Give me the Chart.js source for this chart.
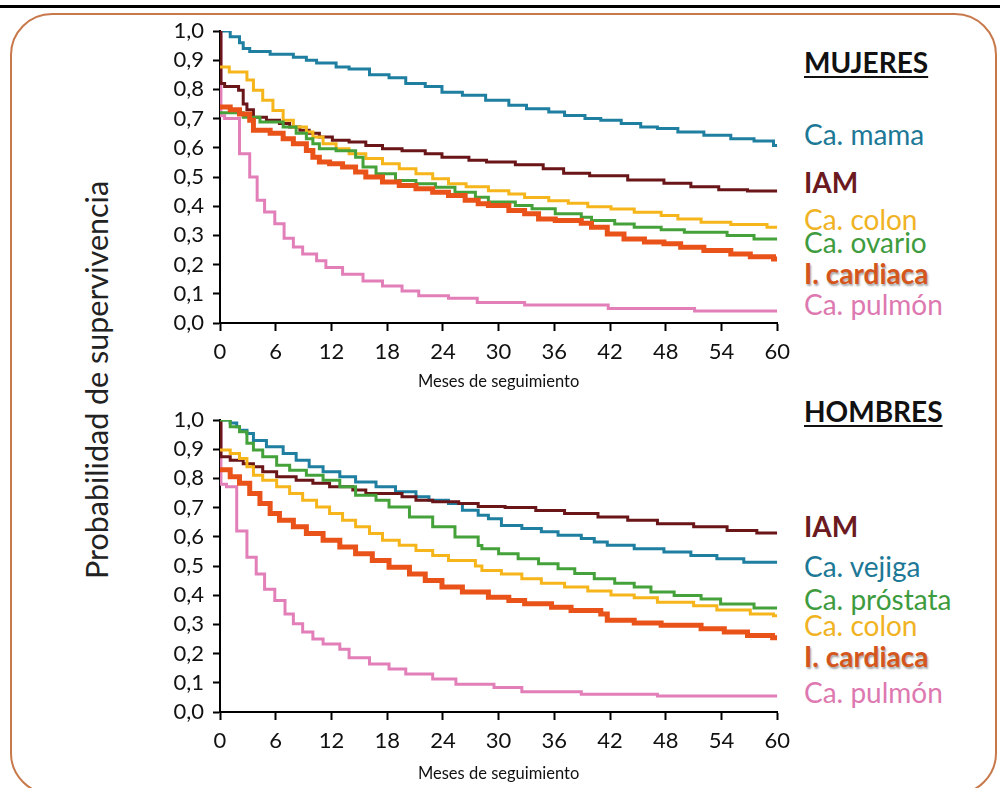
<!DOCTYPE html>
<html>
<head>
<meta charset="utf-8">
<script src="https://cdn.jsdelivr.net/npm/chart.js@4"></script>
<style>
body { margin: 0; background: #fff; }
#page { position: relative; width: 1000px; height: 788px; overflow: hidden; font-family: Lato, "Open Sans", sans-serif; }
#topline { position: absolute; left: 0; top: 5px; width: 1000px; height: 3px; background: #000; }
#frame { position: absolute; left: 10px; top: 13px; width: 987px; height: 782px; border: 2px solid #c8794c; border-radius: 42px; box-sizing: border-box; }
canvas { position: absolute; left: 130px; }
#c1 { top: 0; }
#c2 { top: 389px; }
#ytitle { position: absolute; left: 96px; top: 380px; transform: translate(-50%, -50%) rotate(-90deg); font-size: 30.5px; color: #222; white-space: nowrap; }
.lbl { position: absolute; left: 804px; font-size: 28px; line-height: 28px; white-space: nowrap; }
.b { font-weight: bold; }
.head { color: #111; font-weight: bold; text-decoration: underline; text-decoration-thickness: 2px; text-underline-offset: 3px; }
.card { font-weight: bold; text-shadow: 1px 2px 2px rgba(0,0,0,0.35); }
</style>
</head>
<body>
<div id="page">
  <div id="topline"></div>
  <div id="frame"></div>
  <canvas id="c1" width="670" height="395"></canvas>
  <canvas id="c2" width="670" height="399"></canvas>
  <div id="ytitle">Probabilidad de supervivencia</div>

  <div class="lbl head" style="top:48px">MUJERES</div>
  <div class="lbl" style="top:120px;color:#1c7896">Ca. mama</div>
  <div class="lbl b" style="top:168px;color:#6b1a1f">IAM</div>
  <div class="lbl" style="top:205px;color:#f0b323">Ca. colon</div>
  <div class="lbl" style="top:228px;color:#3e9b3e">Ca. ovario</div>
  <div class="lbl card" style="top:259px;color:#d5561c">I. cardiaca</div>
  <div class="lbl" style="top:290px;color:#dd79b0">Ca. pulmón</div>

  <div class="lbl head" style="top:397px">HOMBRES</div>
  <div class="lbl b" style="top:512px;color:#6b1a1f">IAM</div>
  <div class="lbl" style="top:552px;color:#1c7896">Ca. vejiga</div>
  <div class="lbl" style="top:585px;color:#3e9b3e">Ca. próstata</div>
  <div class="lbl" style="top:611px;color:#f0b323">Ca. colon</div>
  <div class="lbl card" style="top:642px;color:#d5561c">I. cardiaca</div>
  <div class="lbl" style="top:678px;color:#dd79b0">Ca. pulmón</div>
</div>

<script>
// axis ticks
var xTickValues = [0, 6, 12, 18, 24, 30, 36, 42, 48, 54, 60];
var yTickValues = [0, 0.1, 0.2, 0.3, 0.4, 0.5, 0.6, 0.7, 0.8, 0.9, 1.0];
var yTickLabels = ['0,0', '0,1', '0,2', '0,3', '0,4', '0,5', '0,6', '0,7', '0,8', '0,9', '1,0'];

// MUJERES - [mes, supervivencia]
var mujMama = [[0,1.0],[1.1,0.98],[2.1,0.96],[2.5,0.94],[3.2,0.93],[5.4,0.92],[7.9,0.91],[9.3,0.90],[10.4,0.89],[12.5,0.877],
  [13.9,0.87],[16.1,0.85],[18.2,0.84],[20,0.82],[22.1,0.81],[23.9,0.79],[26.1,0.78],[28.6,0.763],[31.1,0.746],[33,0.734],
  [35.4,0.723],[37.1,0.711],[39.3,0.70],[41,0.694],[43.2,0.683],[45.3,0.671],[47.1,0.666],[49.3,0.654],[52.1,0.643],[55,0.631],
  [57.5,0.623],[59.6,0.608],[60,0.608]];
var mujIam = [[0,1.0],[0.1,0.82],[0.5,0.81],[2.0,0.797],[2.5,0.75],[2.9,0.73],[3.6,0.705],[5.0,0.694],[6.4,0.683],[7.5,0.671],
  [8.6,0.66],[9.6,0.65],[10.7,0.637],[12.1,0.626],[13.9,0.62],[15.7,0.608],[17.5,0.597],[19.6,0.59],[22.1,0.58],[23.9,0.568],
  [26.8,0.557],[28.7,0.551],[31.8,0.542],[34.8,0.528],[37,0.513],[39.8,0.504],[43.9,0.49],[47.8,0.479],[50.7,0.467],[53.7,0.456],
  [56.8,0.452],[60,0.452]];
var mujColon = [[0,0.877],[1.0,0.86],[2.9,0.832],[3.6,0.797],[4.6,0.763],[5.7,0.728],[6.8,0.694],[7.9,0.671],[9.3,0.654],[10,0.637],
  [11.1,0.614],[12.5,0.597],[13.9,0.58],[15.7,0.563],[17.5,0.545],[19.3,0.528],[21.1,0.511],[22.9,0.494],[24.6,0.477],[26.5,0.467],
  [28.9,0.453],[31.1,0.442],[32.8,0.43],[35.4,0.419],[37.5,0.41],[39.6,0.398],[42.1,0.39],[44.6,0.379],[47.5,0.368],[49.3,0.356],
  [51.8,0.345],[55,0.337],[58.9,0.328],[60,0.328]];
var mujOvario = [[0,0.72],[2.5,0.705],[4.3,0.688],[6.8,0.671],[8.2,0.65],[9.3,0.631],[10,0.614],[10.7,0.597],[12.5,0.59],[14.6,0.568],
  [15.4,0.534],[16.8,0.511],[18.9,0.488],[21.1,0.477],[23.2,0.465],[25.3,0.448],[27.5,0.431],[28.9,0.414],[31.8,0.402],[33.6,0.391],
  [36.1,0.374],[38.9,0.362],[40,0.351],[42.5,0.339],[44.6,0.328],[47.5,0.319],[50,0.311],[54.6,0.3],[57.5,0.288],[60,0.288]];
var mujCardiaca = [[0,0.74],[1.1,0.73],[2.1,0.716],[3.2,0.694],[3.6,0.66],[5.4,0.65],[6.8,0.631],[7.9,0.614],[9.3,0.591],[10,0.568],
  [10.7,0.551],[11.8,0.545],[13.2,0.534],[14.6,0.517],[15.7,0.5],[17.5,0.483],[19.3,0.471],[21.1,0.46],[22.9,0.448],[24.6,0.437],
  [26.4,0.42],[27.8,0.408],[28.9,0.402],[31.1,0.385],[32.8,0.374],[34.3,0.356],[36.1,0.351],[38.9,0.342],[40,0.328],[41.7,0.305],
  [43.5,0.288],[45.7,0.277],[47.8,0.271],[49.6,0.259],[52.1,0.248],[55,0.236],[57.1,0.227],[59.6,0.219],[60,0.219]];
var mujPulmon = [[0,1.0],[0.1,0.71],[0.5,0.70],[2.1,0.58],[3.2,0.50],[4.0,0.42],[4.8,0.38],[5.9,0.34],[6.9,0.29],[7.9,0.26],
  [8.9,0.236],[10.4,0.213],[11.4,0.19],[13.2,0.167],[15.4,0.144],[17.5,0.127],[19.6,0.11],[21.4,0.093],[24.6,0.085],[27.7,0.07],
  [32.8,0.062],[41.8,0.05],[51.1,0.041],[60,0.041]];

// HOMBRES - [mes, supervivencia]
var homIam = [[0,1.0],[0.1,0.874],[1.1,0.862],[2.5,0.85],[3.6,0.84],[4.6,0.823],[6.1,0.806],[8.2,0.794],[10,0.783],[11.8,0.771],
  [14.3,0.76],[15.7,0.748],[19.6,0.737],[21.1,0.725],[22.9,0.72],[25.7,0.714],[27.8,0.704],[30.7,0.70],[34,0.69],[37.1,0.68],
  [40.7,0.668],[43.9,0.657],[47.1,0.645],[51,0.634],[54.6,0.622],[57.8,0.613],[60,0.613]];
var homVejiga = [[0,1.0],[1.1,0.99],[1.8,0.977],[2.1,0.965],[2.9,0.954],[3.6,0.93],[5,0.908],[6.8,0.885],[8.2,0.862],[9.6,0.84],
  [11.1,0.823],[12.9,0.806],[14.6,0.788],[16.8,0.771],[18.9,0.754],[21.1,0.737],[22.5,0.725],[24.6,0.714],[26.1,0.691],[27.8,0.674],
  [28.9,0.662],[30.3,0.639],[32.5,0.628],[34.6,0.617],[36.4,0.605],[38.9,0.594],[40.3,0.582],[41.7,0.571],[44.6,0.559],[47.8,0.548],
  [50.7,0.536],[53.5,0.525],[56.4,0.513],[60,0.513]];
var homProstata = [[0,1.0],[1.1,0.977],[2.1,0.96],[2.9,0.92],[3.6,0.897],[4.6,0.874],[6.1,0.845],[7.5,0.828],[9.3,0.811],[11.1,0.794],
  [12.9,0.771],[14.6,0.742],[16.8,0.725],[18.2,0.702],[20.4,0.668],[22.9,0.634],[25.3,0.599],[27.8,0.57],[28.2,0.559],[30,0.542],
  [32.1,0.525],[34.3,0.508],[36.4,0.491],[38.2,0.474],[40.3,0.456],[42.5,0.441],[44.6,0.428],[46.4,0.411],[48.9,0.399],[51.8,0.387],
  [53.9,0.37],[57.5,0.356],[60,0.356]];
var homColon = [[0,0.897],[1.1,0.885],[2.1,0.868],[2.9,0.84],[3.6,0.811],[4.6,0.794],[6.1,0.771],[7.5,0.748],[8.9,0.725],[10.4,0.702],
  [11.8,0.68],[13.2,0.657],[14.6,0.634],[16.1,0.611],[17.5,0.588],[19.3,0.571],[21.1,0.553],[22.9,0.536],[24.6,0.519],[27.5,0.5],
  [28.2,0.485],[30.3,0.473],[32.5,0.456],[34.6,0.441],[37.1,0.428],[39.6,0.414],[42.1,0.401],[44.6,0.391],[47.1,0.376],[51,0.364],
  [53.5,0.349],[57.1,0.336],[59.6,0.33],[60,0.33]];
var homCardiaca = [[0,0.83],[1.1,0.806],[2.1,0.783],[3.2,0.748],[4.3,0.714],[5.4,0.68],[6.4,0.657],[7.9,0.634],[9.3,0.611],[11.1,0.588],
  [12.9,0.565],[14.6,0.542],[16.4,0.519],[18.2,0.496],[20.4,0.473],[22.1,0.45],[23.9,0.428],[26.1,0.411],[28.9,0.393],[31.1,0.382],
  [32.8,0.371],[35.7,0.359],[37.8,0.348],[41,0.336],[41.7,0.314],[44.6,0.305],[47.5,0.297],[51.8,0.285],[54.3,0.274],[56.8,0.262],
  [59.5,0.254],[60,0.254]];
var homPulmon = [[0,1.0],[0.1,0.78],[0.7,0.771],[1.8,0.62],[2.9,0.53],[3.9,0.473],[4.8,0.42],[5.9,0.382],[7,0.336],[7.9,0.302],
  [8.9,0.274],[10,0.25],[11.1,0.233],[12.9,0.215],[13.9,0.186],[16.1,0.164],[18.2,0.147],[20,0.13],[22.9,0.113],[25.4,0.095],
  [29.5,0.084],[32.5,0.069],[38.9,0.061],[47.1,0.055],[60,0.055]];

var colors = {
  mama: '#1f7fa0', vejiga: '#1f7fa0', iam: '#6a1518', colon: '#f5b51b',
  ovario: '#45a23a', prostata: '#45a23a', cardiaca: '#e9531a', pulmon: '#e27fb9'
};

function serie(pts, color, width) {
  return {
    data: pts.map(p => ({ x: p[0], y: p[1] })),
    borderColor: color,
    borderWidth: width || 3,
    pointRadius: 0,
    stepped: true,
    fill: false
  };
}

function makeChart(id, datasets, axisH, padBottom) {
  var font = { family: 'Lato, "Open Sans", sans-serif', size: 22, lineHeight: 1 };
  return new Chart(document.getElementById(id).getContext('2d'), {
    type: 'line',
    data: { datasets: datasets },
    options: {
      responsive: false,
      animation: false,
      layout: { padding: { top: 31, right: 20, bottom: padBottom, left: 0 } },
      plugins: { legend: { display: false }, tooltip: { enabled: false } },
      scales: {
        x: {
          type: 'linear', min: 0, max: 60,
          afterBuildTicks: s => { s.ticks = xTickValues.map(v => ({ value: v })); },
          afterFit: s => { s.height = axisH; },
          grid: { drawOnChartArea: false, tickLength: 8, tickColor: '#000', tickWidth: 2 },
          border: { color: '#000', width: 2 },
          ticks: { color: '#111', font: font, padding: 10, maxRotation: 0, autoSkip: false },
          title: { display: true, text: 'Meses de seguimiento', color: '#111',
                   font: { family: 'Lato, "Open Sans", sans-serif', size: 16.5 }, padding: 0 }
        },
        y: {
          min: 0, max: 1,
          afterBuildTicks: s => { s.ticks = yTickValues.map(v => ({ value: v })); },
          afterFit: s => { s.width = 90; },
          grid: { drawOnChartArea: false, tickLength: 7, tickColor: '#000', tickWidth: 2 },
          border: { color: '#000', width: 2 },
          ticks: { color: '#111', font: font, padding: 9, autoSkip: false, callback: (v, i) => yTickLabels[i] }
        }
      }
    }
  });
}

makeChart('c1', [
  serie(mujCardiaca, colors.cardiaca, 5),
  serie(mujOvario, colors.ovario),
  serie(mujColon, colors.colon),
  serie(mujIam, colors.iam),
  serie(mujMama, colors.mama),
  serie(mujPulmon, colors.pulmon)
], 69, 3);

makeChart('c2', [
  serie(homCardiaca, colors.cardiaca, 5),
  serie(homColon, colors.colon),
  serie(homProstata, colors.prostata),
  serie(homIam, colors.iam),
  serie(homVejiga, colors.vejiga),
  serie(homPulmon, colors.pulmon)
], 72, 4);
</script>
</body>
</html>
